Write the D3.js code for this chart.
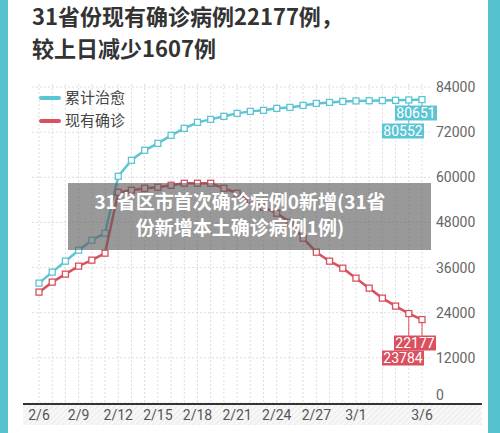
<!DOCTYPE html>
<html><head><meta charset="utf-8">
<script src="https://cdn.jsdelivr.net/npm/d3@7"></script>
<style>body{margin:0;background:#fff}svg{display:block;font-family:"Noto Sans CJK SC","Noto Sans",sans-serif}</style>
</head><body><div id="chart"></div>
<script>
const days = ['2/6','2/7','2/8','2/9','2/10','2/11','2/12','2/13','2/14','2/15','2/16','2/17','2/18','2/19','2/20',
  '2/21','2/22','2/23','2/24','2/25','2/26','2/27','2/28','2/29','3/1','3/2','3/3','3/4','3/5','3/6'];
const tickDays = ['2/6','2/9','2/12','2/15','2/18','2/21','2/24','2/27','3/1','3/6'];
const cured = [31860,34780,37700,40620,43280,45135,60270,64520,67170,69030,71150,73010,74600,75400,76200,
  76990,77520,77790,78320,78580,79110,79640,79900,80170,80300,80350,80400,80450,80552,80651];
const current = [29470,32130,34250,36380,37970,39830,56020,56550,57080,57350,57880,58410,58410,58410,57080,
  55760,53900,52040,50450,48060,43810,40090,37700,35840,33190,30530,27880,25760,23784,22177];
const yTicks = [0,12000,24000,36000,48000,60000,72000,84000];

const W = 500, H = 433;
const cyan = '#5bc5d3', red = '#d9515f';
const svg = d3.select('#chart').append('svg').attr('width', W).attr('height', H);
svg.append('rect').attr('width', W).attr('height', H).attr('fill', '#55c3cf');
svg.append('rect').attr('x', 8).attr('y', 0).attr('width', 480).attr('height', H).attr('fill', '#fff');

svg.append('text').attr('x', 32).attr('y', 25).attr('font-size', 22).attr('font-weight', 'bold').attr('fill', '#333')
  .text('31省份现有确诊病例22177例，');
svg.append('text').attr('x', 32).attr('y', 57).attr('font-size', 22).attr('font-weight', 'bold').attr('fill', '#333')
  .text('较上日减少1607例');

const x = d3.scalePoint().domain(days).range([39, 422]);
const y = d3.scaleLinear().domain([0, 84000]).range([403, 87]);

// grid
const g = svg.append('g');
g.selectAll('.vg').data(days).enter().append('line')
  .attr('x1', d => x(d)).attr('x2', d => x(d)).attr('y1', 84).attr('y2', 403)
  .attr('stroke', '#ddd').attr('stroke-dasharray', '2,2');
g.selectAll('.hg').data(yTicks).enter().append('line')
  .attr('x1', 32).attr('x2', 432).attr('y1', d => y(d)).attr('y2', d => y(d))
  .attr('stroke', '#ddd').attr('stroke-dasharray', '2,2');
g.selectAll('.yl').data(yTicks).enter().append('text')
  .attr('x', 436).attr('y', d => y(d) + (d === 0 ? -3 : 5)).attr('font-size', 14).attr('fill', '#666')
  .attr('font-family', 'Roboto, sans-serif').text(d => d);

// hatched x strip
const defs = svg.append('defs');
const pat = defs.append('pattern').attr('id', 'hatch').attr('width', 4).attr('height', 4)
  .attr('patternUnits', 'userSpaceOnUse').attr('patternTransform', 'rotate(45)');
pat.append('rect').attr('width', 4).attr('height', 4).attr('fill', '#f7f7f7');
pat.append('line').attr('x1', 0).attr('y1', 0).attr('x2', 0).attr('y2', 4).attr('stroke', '#e6e6e6').attr('stroke-width', 1.5);
svg.append('rect').attr('x', 23).attr('y', 404).attr('width', 459).attr('height', 21).attr('fill', 'url(#hatch)');
svg.append('line').attr('x1', 23).attr('x2', 482).attr('y1', 404).attr('y2', 404).attr('stroke', '#333').attr('stroke-width', 2);
svg.selectAll('.xl').data(tickDays).enter().append('text')
  .attr('x', d => x(d)).attr('y', 420).attr('text-anchor', 'middle').attr('font-size', 14).attr('fill', '#555')
  .attr('font-family', 'Roboto, sans-serif').text(d => d);

// end label leaders
function leaders(vals, color, labelY) {
  [vals.length - 2, vals.length - 1].forEach((i, k) => {
    svg.append('line').attr('x1', x(days[i])).attr('x2', x(days[i]))
      .attr('y1', y(vals[i])).attr('y2', labelY[k]).attr('stroke', color).attr('stroke-width', 1);
  });
}
leaders(cured, cyan, [124, 106]);
leaders(current, red, [351, 336]);

const line = d3.line().x((d, i) => x(days[i])).y(d => y(d));
[[cured, cyan], [current, red]].forEach(([vals, color]) => {
  svg.append('path').attr('d', line(vals)).attr('fill', 'none').attr('stroke', color).attr('stroke-width', 2.5);
  svg.selectAll(null).data(vals).enter().append('rect')
    .attr('x', (d, i) => x(days[i]) - 3).attr('y', d => y(d) - 3).attr('width', 6).attr('height', 6)
    .attr('fill', '#fff').attr('stroke', color).attr('stroke-width', 1.3);
});

function label(txt, cx, cy, color) {
  svg.append('rect').attr('x', cx - 21).attr('y', cy - 7.5).attr('width', 42).attr('height', 15).attr('fill', color);
  svg.append('text').attr('x', cx).attr('y', cy + 5).attr('text-anchor', 'middle').attr('font-size', 14)
    .attr('fill', '#fff').attr('font-family', 'Roboto, sans-serif').text(txt);
}
label(cured[29], 416, 113, cyan);
label(cured[28], 403, 131, cyan);
label(current[29], 415, 343, red);
label(current[28], 403, 358, red);

// legend
[['累计治愈', cyan, 98], ['现有确诊', red, 121]].forEach(([t, c, ly]) => {
  svg.append('line').attr('x1', 41).attr('x2', 59).attr('y1', ly).attr('y2', ly)
    .attr('stroke', c).attr('stroke-width', 4).attr('stroke-linecap', 'round');
  svg.append('text').attr('x', 65).attr('y', ly + 5).attr('font-size', 15).attr('fill', '#444').text(t);
});

// overlay banner
svg.append('rect').attr('x', 68).attr('y', 183).attr('width', 363).attr('height', 67).attr('fill', 'rgba(90,90,90,0.62)');
[['31省区市首次确诊病例0新增(31省', 209], ['份新增本土确诊病例1例)', 235]].forEach(([t, ty]) => {
  svg.append('text').attr('x', 240).attr('y', ty).attr('text-anchor', 'middle').attr('font-size', 19)
    .attr('font-weight', 'bold').attr('fill', '#fff').text(t);
});
</script></body></html>
